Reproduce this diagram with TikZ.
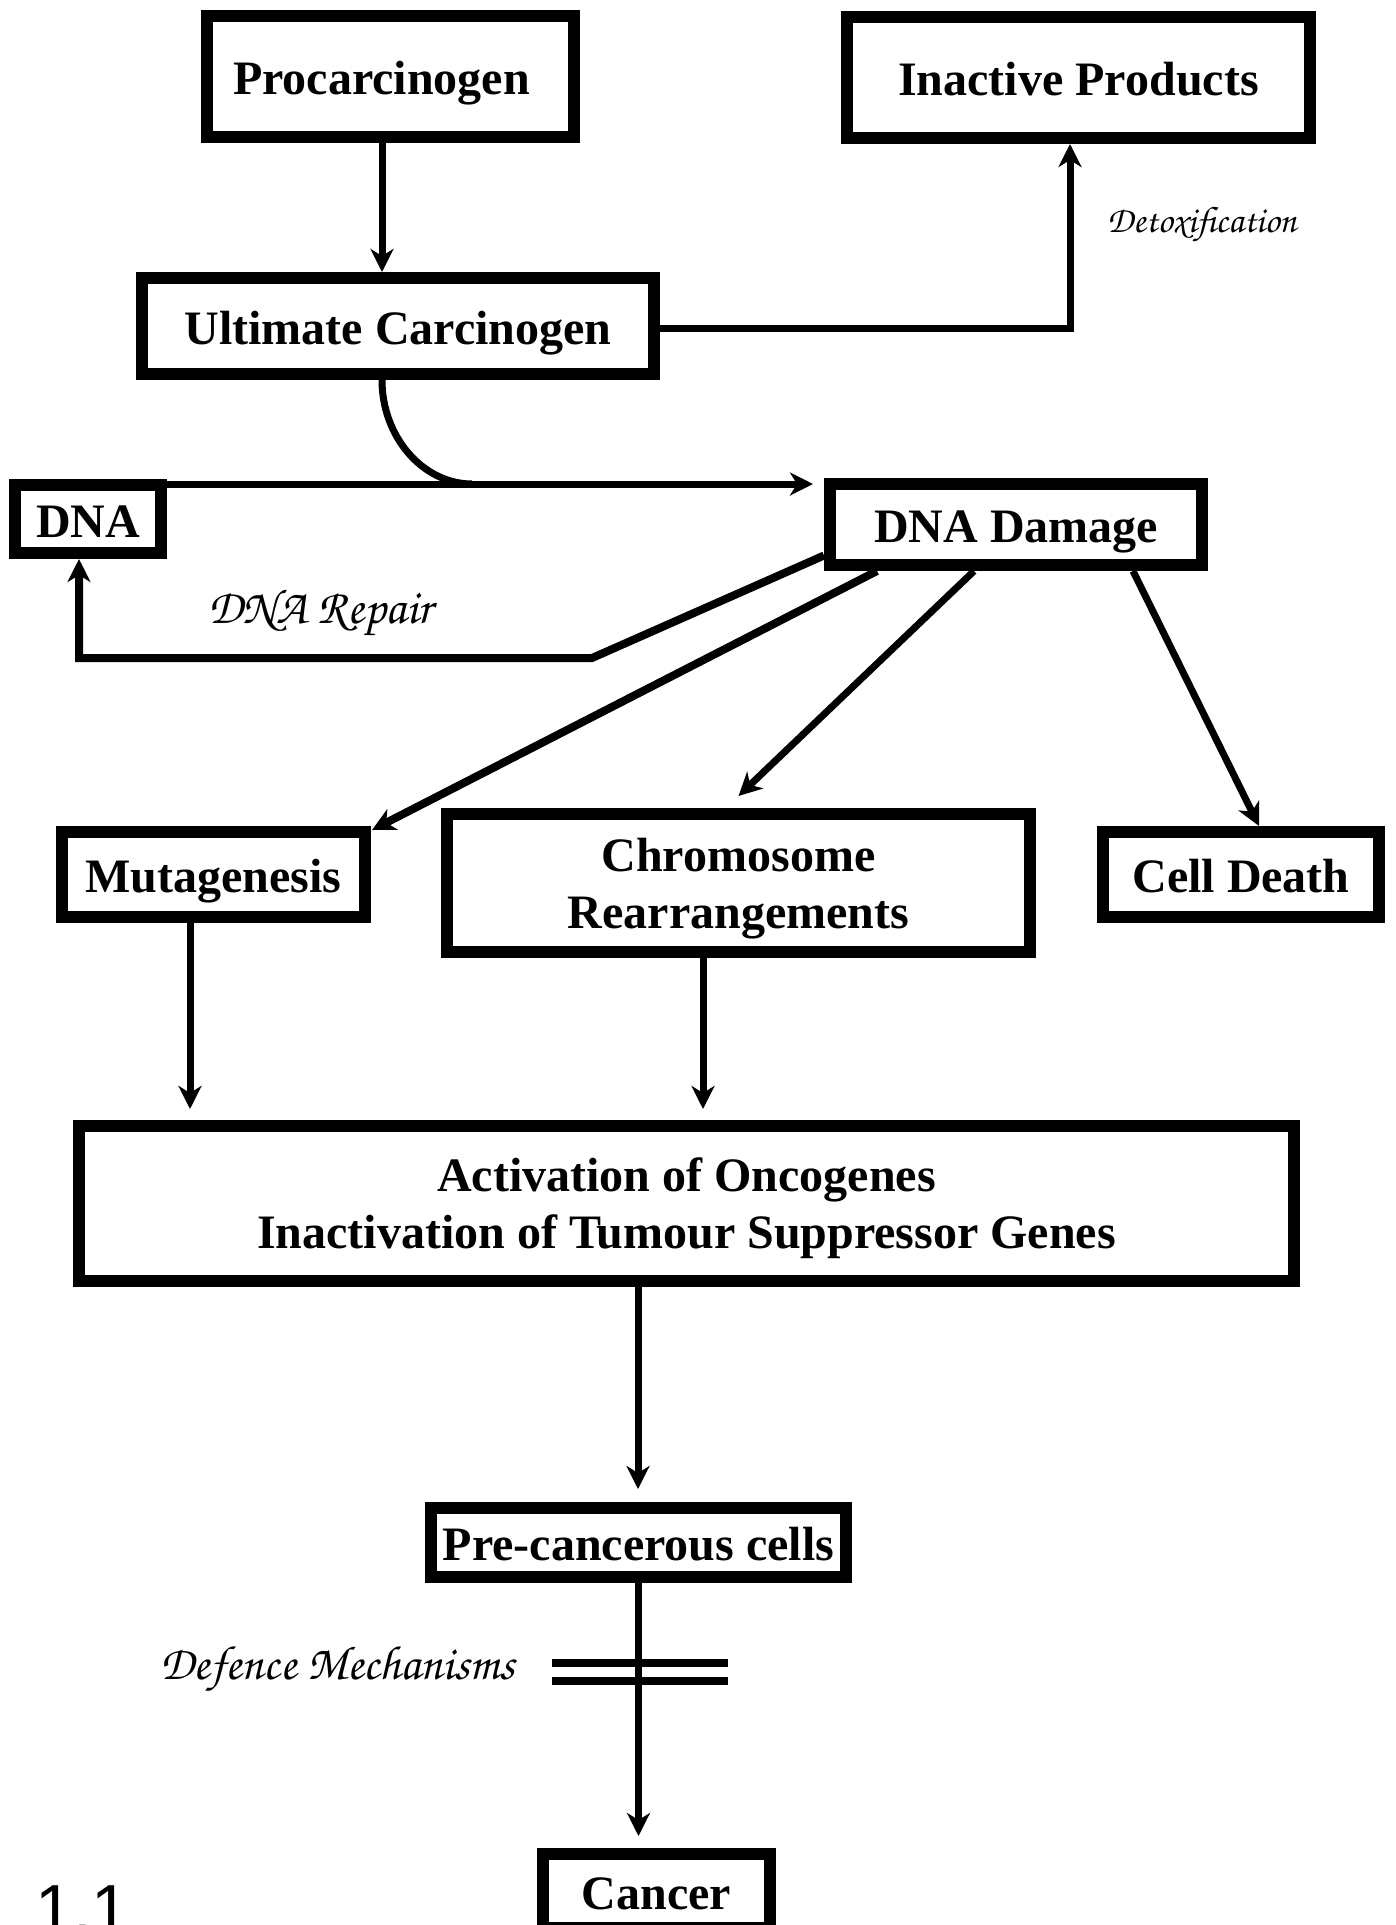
\documentclass[tikz,border=0pt]{standalone}
\usepackage{fontspec}
\setmainfont{Liberation Serif}
\newfontfamily\chancery{TeX Gyre Chorus}
\newfontfamily\labelsans{Liberation Sans}
\usetikzlibrary{arrows.meta,calc}
\newcommand\boxfont{\bfseries\fontsize{48}{57}\selectfont}
\tikzset{
  box/.style={draw, line width=12pt, inner sep=0pt, align=center, font=\boxfont, text depth=0pt},
  oneline/.style={text height=36pt},
  conn/.style={line width=7pt, -{Stealth[length=23pt,width=23pt,inset=7pt]}},
  plainline/.style={line width=7pt},
  barline/.style={line width=8pt},
  lbl/.style={inner sep=0pt, anchor=base west}
}
\begin{document}
\begin{tikzpicture}[x=1pt,y=-1pt]
\useasboundingbox (0,0) rectangle (1396,1925);
\clip (0,0) rectangle (1396,1925);
% boxes
\node[box, oneline, minimum width=367pt, minimum height=121pt] (proc) at (390.5,76.5) {Procarcinogen\hspace*{18pt}};
\node[box, oneline, minimum width=463pt, minimum height=121pt] (inact) at (1078.5,77.5) {Inactive Products};
\node[box, oneline, minimum width=512pt, minimum height=96pt] (ult) at (398,326) {Ultimate Carcinogen};
\node[box, oneline, minimum width=146pt, minimum height=68pt] (dna) at (88,519) {DNA};
\node[box, oneline, minimum width=372pt, minimum height=81pt] (dmg) at (1016,524.5) {DNA Damage};
\node[box, oneline, minimum width=303pt, minimum height=85pt] (mut) at (213.5,874.5) {Mutagenesis};
\node[box, minimum width=583pt, minimum height=138pt] (chr) at (738.5,883) {Chromosome\\Rearrangements};
\node[box, oneline, minimum width=276pt, minimum height=85pt] (cd) at (1241,874.5) {Cell Death};
\node[box, minimum width=1215pt, minimum height=155pt] (act) at (686.5,1203.5) {Activation of Oncogenes\\Inactivation of Tumour Suppressor Genes};
\node[box, oneline, minimum width=415pt, minimum height=69pt] (pre) at (638.5,1542.5) {Pre-cancerous cells};
\node[box, oneline, minimum width=227pt, minimum height=74pt] (can) at (656.5,1891) {Cancer};
% connectors
\coordinate (p1) at ($(proc.south)+(-8.5,0)$);
\draw[conn] (p1) -- (p1 |- ult.north);
\draw[conn] ($(ult.east)+(0,2)$) -| ($(inact.south)+(-8.5,0)$);
\coordinate (tipA) at ($(dmg.north west)+(-11,6)$);
\coordinate (merge) at (472,484);
\draw[conn] ($(dna.north east)+(0,5)$) -- (tipA);
\draw[plainline] ($(ult.south)+(-16,0)$) .. controls +(0,57) and +(-49,0) .. (merge);
\coordinate (r1) at (592,658);
\coordinate (r2) at (79,658);
\draw[conn, line width=8pt] ($(dmg.west)+(0,31)$) -- (r1) -- (r2) -- (r2 |- dna.south);
\draw[conn, line width=8pt] ($(dmg.south)+(-139,0)$) -- ($(mut.north east)+(1,4)$);
\draw[conn] ($(dmg.south)+(-42,0)$) -- ($(chr.north)+(0,-12)$);
\draw[conn] ($(dmg.south)+(117,0)$) -- ($(cd.north)+(18,0)$);
\coordinate (m1) at ($(mut.south)+(-23.5,0)$);
\draw[conn] (m1) -- ($(m1 |- act.north)+(0,-11)$);
\coordinate (c1) at ($(chr.south)+(-35.5,0)$);
\draw[conn] (c1) -- ($(c1 |- act.north)+(0,-11)$);
\coordinate (a1) at ($(act.south)+(-48.5,0)$);
\draw[conn] (a1) -- ($(a1 |- pre.north)+(0,-13)$);
\draw[conn] (pre.south) -- ($(pre.south |- can.north)+(0,-12)$);
% defence bars
\coordinate (b1) at ($(pre.south)+(-86.5,80)$);
\coordinate (b2) at ($(pre.south)+(-86.5,98)$);
\draw[barline] (b1) -- +(176,0);
\draw[barline] (b2) -- +(176,0);
% labels
\node[lbl, font=\chancery\fontsize{37}{37}\selectfont] (detox) at (1107,232) {Detoxification};
\node[lbl, font=\chancery\fontsize{49}{49}\selectfont] (repair) at (208,623) {DNA Repair};
\node[lbl, font=\chancery\fontsize{48}{48}\selectfont] (defence) at (160,1679) {Defence Mechanisms};
\node[lbl, font=\labelsans\fontsize{68}{68}\selectfont] (fig) at (35,1932) {1.1};
\end{tikzpicture}
\end{document}
